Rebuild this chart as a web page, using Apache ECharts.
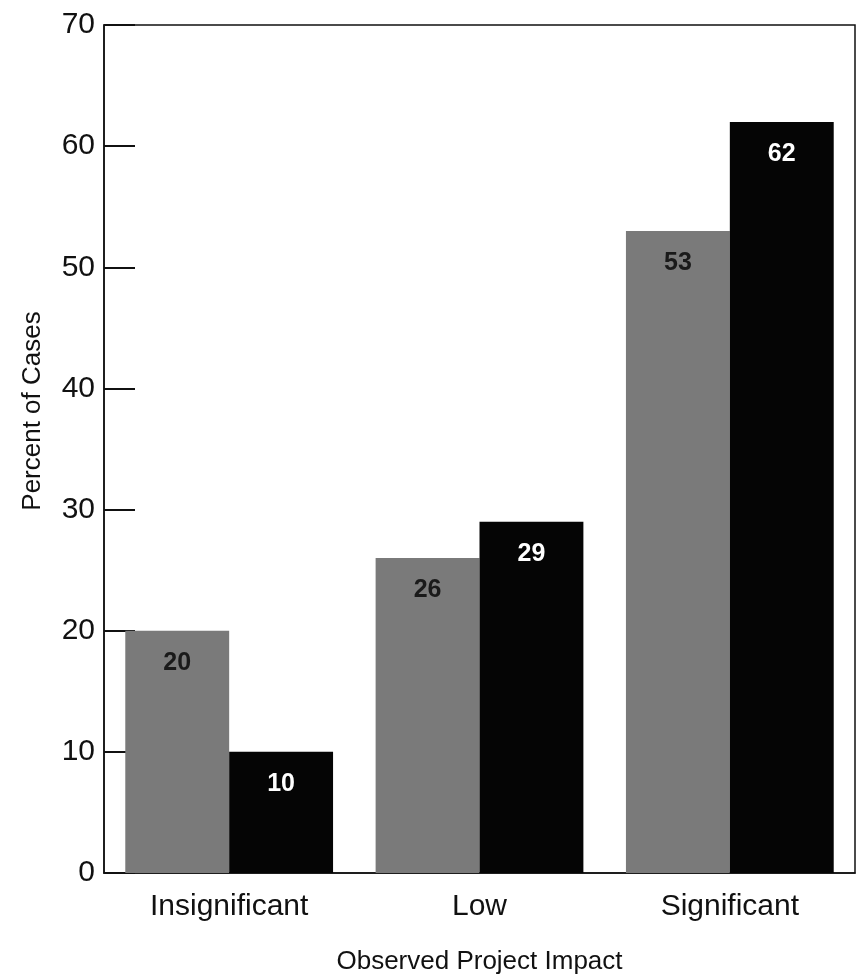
<!DOCTYPE html>
<html>
<head>
<meta charset="utf-8">
<style>
  html, body { margin: 0; padding: 0; background: #fff; }
  #chart { width: 866px; height: 976px; }
</style>
<script src="https://cdn.jsdelivr.net/npm/echarts@6/dist/echarts.min.js"></script>
</head>
<body>
<div id="chart"></div>
<script>
// Observed project impact, percent of cases per group
const categories = ['Insignificant', 'Low', 'Significant'];
const seriesGray = [20, 26, 53];
const seriesBlack = [10, 29, 62];
const yTicks = [0, 10, 20, 30, 40, 50, 60, 70];

const font = '"Liberation Sans", Arial, Helvetica, sans-serif';

const chart = echarts.init(document.getElementById('chart'), null, { renderer: 'canvas' });

chart.setOption({
  animation: false,
  backgroundColor: '#ffffff',
  grid: {
    left: 104, right: 11, top: 25, bottom: 103,
    outerBoundsMode: 'none',
    show: true, borderColor: '#111', borderWidth: 1.5, backgroundColor: 'transparent'
  },
  xAxis: {
    type: 'category',
    data: categories,
    name: 'Observed Project Impact',
    nameLocation: 'middle',
    nameGap: 76,
    nameTextStyle: { fontFamily: font, fontSize: 26, color: '#111' },
    axisLine: { show: true, lineStyle: { color: '#111', width: 1.5 } },
    axisTick: { show: false },
    axisLabel: { fontFamily: font, fontSize: 30, color: '#111', margin: 19 }
  },
  yAxis: {
    type: 'value',
    min: yTicks[0],
    max: yTicks[yTicks.length - 1],
    interval: 10,
    name: 'Percent of Cases',
    nameLocation: 'middle',
    nameGap: 58,
    nameTextStyle: { fontFamily: font, fontSize: 26, color: '#111', padding: [0, 0, 0, 76] },
    axisLine: { show: true, lineStyle: { color: '#111', width: 1.5 } },
    axisTick: { show: true, inside: true, length: 31, lineStyle: { color: '#111', width: 2 } },
    splitLine: { show: false },
    axisLabel: { fontFamily: font, fontSize: 30, color: '#111', margin: 9 }
  },
  series: [
    {
      type: 'bar',
      data: seriesGray,
      barGap: '0%',
      barCategoryGap: '17%',
      itemStyle: { color: '#7a7a7a' },
      label: {
        show: true, position: 'insideTop', distance: 20,
        fontFamily: font, fontSize: 25, fontWeight: 'bold', color: '#1a1a1a'
      }
    },
    {
      type: 'bar',
      data: seriesBlack,
      barGap: '0%',
      barCategoryGap: '17%',
      itemStyle: { color: '#050505' },
      label: {
        show: true, position: 'insideTop', distance: 20,
        fontFamily: font, fontSize: 25, fontWeight: 'bold', color: '#ffffff'
      }
    }
  ]
});
</script>
</body>
</html>
